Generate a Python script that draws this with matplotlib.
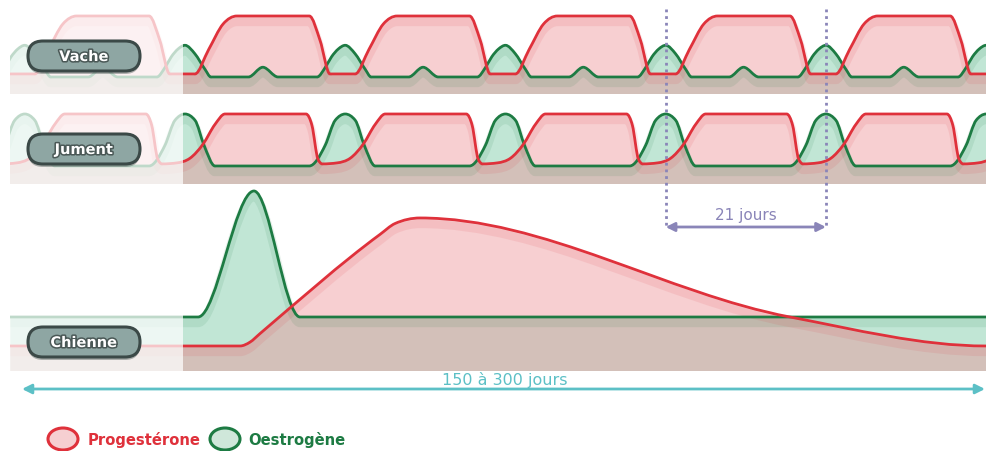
import matplotlib
matplotlib.use("Agg")
import matplotlib.pyplot as plt
import matplotlib.patheffects as pe
import matplotlib.transforms as mtransforms
from matplotlib.path import Path
from matplotlib.patches import PathPatch, FancyBboxPatch, Ellipse, Rectangle
import numpy as np

W, H = 986, 452
PX_PER_DAY = 7.63      # 21 days between the two dotted markers
X0_PX = 185            # day 0 = first vivid oestrogen peak

RED = '#df313b'
GREEN = '#1d7b43'
RED_FILL = '#ee8d93'
GREEN_FILL = '#6cc49c'

# oestrogen peaks (start of each 21 day cycle), in days
cycle_peaks = [-21, 0, 21, 42, 63, 84, 105]

# Vache: one cycle, days from the oestrogen peak -> relative level
vache_oestro_t = [-3.7, -2.6, -1.8, -0.9, 0.0, 1.3, 2.6, 3.4, 8.3, 10.2, 12.2, 17.3]
vache_oestro_y = [0.0, 0.16, 0.33, 0.46, 0.52, 0.38, 0.13, 0.0, 0.0, 0.16, 0.0, 0.0]
vache_proge_t = [-2.0, 1.3, 3.1, 5.0, 6.8, 16.3, 17.7, 19.0]
vache_proge_y = [0.05, 0.05, 0.45, 0.87, 1.0, 1.0, 0.6, 0.05]

# Jument: one cycle
jument_oestro_t = [-4.72, -2.62, -1.31, 0.0, 1.31, 2.49, 3.93, 16.28]
jument_oestro_y = [0.0, 0.4, 0.88, 1.0, 0.88, 0.4, 0.0, 0.0]
jument_proge_t = [-3.0, -1.05, 0.66, 2.36, 3.93, 5.24, 15.86, 16.64, 17.43, 18.0]
jument_proge_y = [0.04, 0.06, 0.15, 0.42, 0.8, 1.0, 1.0, 0.78, 0.13, 0.04]

# Chienne: single long cycle
chienne_oestro_t = [-22.9, 1.7, 9.04, 15.07, 105.0]
chienne_oestro_y = [0.187, 0.187, 1.0, 0.187, 0.187]
chienne_proge_t = [-22.9, 7.21, 8.52, 9.83, 25.56, 27.52, 30.8, 79.29, 105.0]
chienne_proge_y = [0.0, 0.0, 0.025, 0.08, 0.72, 0.79, 0.826, 0.187, 0.0]

species = ['Vache', 'Jument', 'Chienne']
legend_labels = ['Progestérone', 'Oestrogène']


def tile(t, y, peaks):
    xs, ys = [], []
    for p in peaks:
        for i in range(len(t)):
            if xs and i == 0:
                continue
            xs.append(p + t[i])
            ys.append(y[i])
    return xs, ys


def smooth_path(x, y, base=None):
    # monotone cubic through the key points, drawn as bezier segments
    x = np.asarray(x, float)
    y = np.asarray(y, float)
    n = len(x)
    h = np.diff(x)
    s = np.diff(y) / h
    m = np.zeros(n)
    for i in range(1, n - 1):
        if s[i - 1] * s[i] > 0:
            p = (s[i - 1] * h[i] + s[i] * h[i - 1]) / (h[i - 1] + h[i])
            m[i] = np.sign(s[i]) * min(2 * abs(s[i - 1]), 2 * abs(s[i]), abs(p))
    verts = [(x[0], y[0])]
    codes = [Path.MOVETO]
    for i in range(n - 1):
        d = h[i] / 3
        verts += [(x[i] + d, y[i] + m[i] * d), (x[i + 1] - d, y[i + 1] - m[i + 1] * d),
                  (x[i + 1], y[i + 1])]
        codes += [Path.CURVE4] * 3
    if base is not None:
        verts += [(x[-1], base), (x[0], base), (x[0], y[0])]
        codes += [Path.LINETO, Path.LINETO, Path.CLOSEPOLY]
    return Path(verts, codes)


fig = plt.figure(figsize=(W / 100, H / 100), dpi=100)
xlim = ((10 - X0_PX) / PX_PER_DAY, (W - X0_PX) / PX_PER_DAY)


def panel(top, bottom, zero_px, unit_px):
    ax = fig.add_axes([10 / W, 1 - bottom / H, (W - 10) / W, (bottom - top) / H])
    ax.set_xlim(xlim)
    ax.set_ylim((zero_px - bottom) / unit_px, (zero_px - top) / unit_px)
    ax.axis('off')
    return ax


def draw_curves(ax, oe, pr):
    base = ax.get_ylim()[0] - 0.5
    shadow = mtransforms.offset_copy(ax.transData, fig=fig, x=0, y=-6, units='dots')
    curves = [(oe, GREEN, GREEN_FILL), (pr, RED, RED_FILL)]
    for (x, y), lc, fc in curves:
        ax.add_patch(PathPatch(smooth_path(x, y, base), fc=fc, ec='none', alpha=0.42, zorder=1))
    for (x, y), lc, fc in curves:
        ax.add_patch(PathPatch(smooth_path(x, y), fc='none', ec=lc, lw=6, alpha=0.10,
                               transform=shadow, zorder=2))
    for (x, y), lc, fc in curves:
        ax.add_patch(PathPatch(smooth_path(x, y), fc='none', ec=lc, lw=2.0,
                               joinstyle='round', capstyle='round', zorder=3))
    ax.add_patch(Rectangle((xlim[0], ax.get_ylim()[0]), (183 - 10) / PX_PER_DAY,
                           ax.get_ylim()[1] - ax.get_ylim()[0], fc='white', ec='none',
                           alpha=0.72, zorder=4))


ax_v = panel(10, 95, 78, 61)
draw_curves(ax_v, tile(vache_oestro_t, vache_oestro_y, cycle_peaks),
            tile(vache_proge_t, vache_proge_y, cycle_peaks))
ax_j = panel(105, 185, 167, 52)
draw_curves(ax_j, tile(jument_oestro_t, jument_oestro_y, cycle_peaks),
            tile(jument_proge_t, jument_proge_y, cycle_peaks))
ax_c = panel(190, 372, 347, 155)
draw_curves(ax_c, (chienne_oestro_t, chienne_oestro_y), (chienne_proge_t, chienne_proge_y))

# overlay in pixel coordinates
ov = fig.add_axes([0, 0, 1, 1])
ov.set_xlim(0, W)
ov.set_ylim(H, 0)
ov.axis('off')
ov.patch.set_alpha(0)

blend = mtransforms.blended_transform_factory(ax_v.transData, ov.transData)
LAV = '#8a85b8'
for d in (63, 84):
    ov.plot([d, d], [10, 230], transform=blend, color=LAV, lw=2, ls=(0, (1, 1.4)))
ov.annotate('', xy=(84, 228), xytext=(63, 228), xycoords=blend, textcoords=blend,
            arrowprops=dict(arrowstyle='<|-|>', color=LAV, lw=2, mutation_scale=13,
                            shrinkA=0, shrinkB=0))
ov.text(73.5, 216, '21 jours', transform=blend, ha='center', va='center', color=LAV,
        fontsize=11)

TEAL = '#5cc0c6'
ov.annotate('', xy=(985, 390), xytext=(22, 390),
            arrowprops=dict(arrowstyle='<|-|>', color=TEAL, lw=2, mutation_scale=14,
                            shrinkA=0, shrinkB=0))
ov.text(505, 380, '150 à 300 jours', ha='center', va='center', color=TEAL, fontsize=11.5)

# species pills
for name, cy in zip(species, [57, 150, 343]):
    ov.add_patch(FancyBboxPatch((28, cy - 15 + 3), 112, 30,
                                boxstyle='round,pad=0,rounding_size=15',
                                fc='#55625f', ec='none', alpha=0.45))
    ov.add_patch(FancyBboxPatch((28, cy - 15), 112, 30,
                                boxstyle='round,pad=0,rounding_size=15',
                                fc='#8ea6a3', ec='#3b4947', lw=2.2))
    ov.text(84, cy + 0.5, name, ha='center', va='center', color='white', fontsize=10.5,
            fontweight='bold',
            path_effects=[pe.withStroke(linewidth=2.2, foreground='#4a5856')])

# legend
for (cx, tx), lab, lc, fc in zip([(63, 88), (225, 248)], legend_labels,
                                 [RED, GREEN], ['#f6cfd1', '#cfe7da']):
    ov.add_patch(Ellipse((cx, 440), 30, 22, fc=fc, ec=lc, lw=2.2))
    ov.text(tx, 440, lab, ha='left', va='center', color=lc, fontsize=10.6,
            fontweight='bold')

fig.savefig('out.png', dpi=100)
